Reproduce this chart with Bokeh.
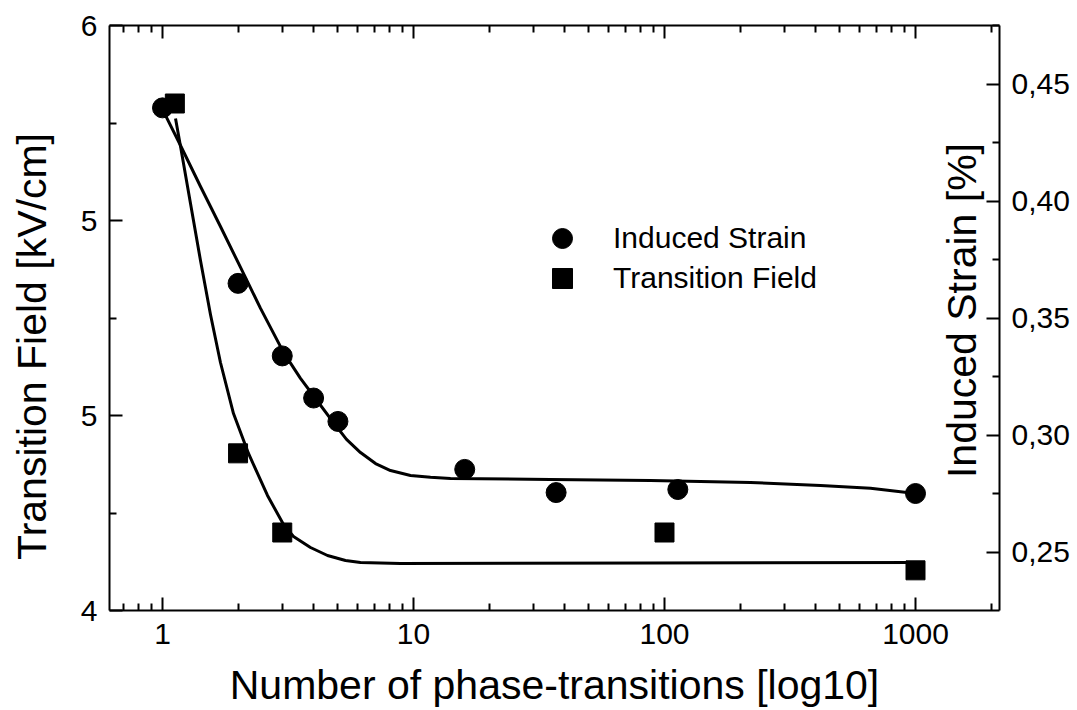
import math
from bokeh.plotting import figure
from bokeh.models import (Range1d, LinearAxis, LogAxis, FixedTicker, Legend,
                          LegendItem, Label, BasicTickFormatter)
from bokeh.embed import file_html
from bokeh.resources import INLINE

# ---------------- data ----------------
# Induced strain [%] (circles, right axis)
strain_x = [1, 2, 3, 4, 5, 16, 37, 113, 1000]
strain_y = [0.440, 0.365, 0.334, 0.316, 0.306, 0.2855, 0.2756, 0.2769, 0.2752]

# Transition field [kV/cm] (squares, left axis)
field_x = [1.12, 2, 3, 100, 1000]
field_y = [5.30, 4.403, 4.20, 4.20, 4.103]

# fitted curves
strain_fit_x = [1.028, 1.180, 1.417, 1.702, 2.046, 2.458, 3.035, 3.546, 4.070,
                4.757, 5.409, 6.150, 7.059, 8.099, 9.729, 11.69, 14.04, 35.14,
                87.9, 220.1, 418.3, 661.9, 1000]
strain_fit_y = [0.4368, 0.4239, 0.4064, 0.3893, 0.3718, 0.3543, 0.3355, 0.3244,
                0.3158, 0.3060, 0.2983, 0.2927, 0.2880, 0.2850, 0.2829, 0.2821,
                0.2816, 0.2812, 0.2808, 0.2799, 0.2786, 0.2774, 0.2752]

field_fit_x = [1.127, 1.180, 1.293, 1.417, 1.553, 1.702, 1.918, 2.201, 2.620,
               3.035, 3.326, 3.887, 4.544, 5.359, 6.150, 8.877, 87.9, 1000]
field_fit_y = [5.2615, 5.1897, 5.0436, 4.8974, 4.7590, 4.6359, 4.5051, 4.4026,
               4.2949, 4.2205, 4.1897, 4.1615, 4.1410, 4.1282, 4.1231, 4.1205,
               4.1220, 4.1231]

# axis ticks / labels / titles
x_major = [1, 10, 100, 1000]
x_minor = [m * 10.0 ** k for k in range(-1, 4) for m in range(2, 10)]
field_ticks = [4.0, 4.5, 5.0, 5.5]
field_tick_labels = ["4", "5", "5", "6"]
field_minor = [4.25, 4.75, 5.25]
strain_ticks = [0.25, 0.30, 0.35, 0.40, 0.45]
strain_tick_labels = ["0,25", "0,30", "0,35", "0,40", "0,45"]
strain_minor = [0.275, 0.325, 0.375, 0.425, 0.475]
x_title = "Number of phase-transitions [log10]"
left_title = "Transition Field [kV/cm]"
right_title = "Induced Strain [%]"

FONT = "Liberation Sans"

p = figure(width=1077, height=710, x_axis_type="log",
           x_range=Range1d(0.615, 2161), y_range=Range1d(4.0, 5.5),
           output_backend="svg", toolbar_location=None,
           min_border_left=109, min_border_right=78,
           min_border_top=25, min_border_bottom=100)
p.extra_y_ranges = {"strain": Range1d(0.2252, 0.4752)}
p.xgrid.visible = False
p.ygrid.visible = False
p.outline_line_color = None
p.background_fill_color = "white"
p.border_fill_color = "white"


def style_axis(ax):
    ax.axis_line_width = 2
    ax.axis_line_color = "black"
    ax.major_tick_in = 13
    ax.major_tick_out = 0
    ax.minor_tick_in = 7
    ax.minor_tick_out = 0
    ax.major_tick_line_width = 2
    ax.minor_tick_line_width = 2
    ax.major_tick_line_color = "black"
    ax.minor_tick_line_color = "black"
    ax.major_label_text_font = FONT
    ax.major_label_text_font_size = "30px"
    ax.major_label_text_color = "black"
    ax.axis_label_text_font = FONT
    ax.axis_label_text_font_size = "41px"
    ax.axis_label_text_font_style = "normal"
    ax.axis_label_text_color = "black"


# bottom axis
xb = p.xaxis[0]
xb.ticker = FixedTicker(ticks=x_major, minor_ticks=x_minor)
xb.formatter = BasicTickFormatter()
style_axis(xb)
xb.major_label_standoff = 13
xb.axis_label = x_title
xb.axis_label_standoff = 15

# left axis (title padded at its end with no-break spaces so that the
# visible text sits lower, as in the reference)
yl = p.yaxis[0]
yl.ticker = FixedTicker(ticks=field_ticks, minor_ticks=field_minor)
yl.major_label_overrides = dict(zip(field_ticks, field_tick_labels))
style_axis(yl)
yl.major_label_standoff = 12
yl.axis_label = left_title + "\u00a0" * 5
yl.axis_label_standoff = 23

# right axis
yr = LinearAxis(y_range_name="strain",
                ticker=FixedTicker(ticks=strain_ticks, minor_ticks=strain_minor),
                major_label_overrides=dict(zip(strain_ticks, strain_tick_labels)))
style_axis(yr)
yr.major_label_standoff = 12
p.add_layout(yr, "right")

# top axis (mirror ticks only)
xt = LogAxis(ticker=FixedTicker(ticks=x_major, minor_ticks=x_minor))
style_axis(xt)
xt.major_label_text_font_size = "0px"
xt.major_label_text_color = None
xt.major_label_standoff = 0
p.add_layout(xt, "above")

# curves
p.line(strain_fit_x, strain_fit_y, y_range_name="strain", line_color="black",
       line_width=3, line_join="round")
p.line(field_fit_x, field_fit_y, line_color="black", line_width=3, line_join="round")

# points
r_strain = p.scatter(strain_x, strain_y, y_range_name="strain", marker="circle",
                     size=20, fill_color="black", line_color="black", line_width=1)
r_field = p.scatter(field_x, field_y, marker="square", size=19,
                    fill_color="black", line_color="black", line_width=1)

# right axis title: inside the frame, as in the reference
p.add_layout(Label(x=1525, y=0.3534, y_range_name="strain", text=right_title,
                   angle=math.pi / 2, text_font=FONT, text_font_size="41px",
                   text_color="black", text_align="center",
                   text_baseline="alphabetic"))

# legend (one entry per box so markers get the reference size)
for lbl, rend, loc in [("Induced Strain", r_strain, (428, 347)),
                       ("Transition Field", r_field, (428, 307))]:
    lg = Legend(items=[LegendItem(label=lbl, renderers=[rend])], location=loc)
    lg.glyph_width = 50
    lg.glyph_height = 50
    lg.padding = 0
    lg.margin = 0
    lg.spacing = 0
    lg.label_standoff = 26
    lg.border_line_color = None
    lg.background_fill_alpha = 0
    lg.label_text_font = FONT
    lg.label_text_font_size = "30px"
    lg.label_text_color = "black"
    p.add_layout(lg)

open("out.html", "w").write(file_html(p, INLINE))
